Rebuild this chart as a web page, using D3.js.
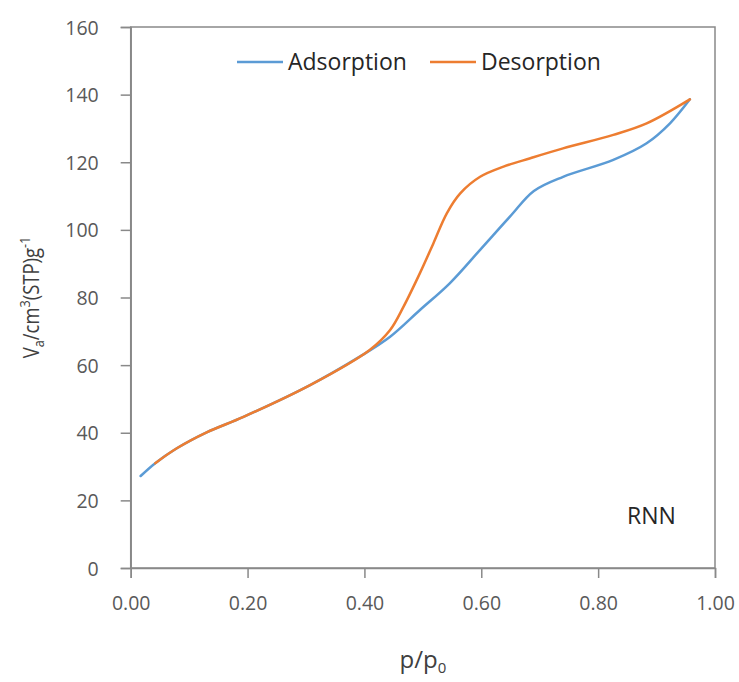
<!DOCTYPE html>
<html>
<head>
<meta charset="utf-8">
<script src="https://cdn.jsdelivr.net/npm/d3@7"></script>
<style>
  body { margin: 0; background: #fff; }
  text { font-family: "Open Sans", sans-serif; }
</style>
</head>
<body>
<script>
const width = 739;
const height = 682;

// Adsorption branch (p/p0, volume)
const adsP = [0.017, 0.042, 0.079, 0.130, 0.193, 0.307, 0.392, 0.444, 0.495, 0.546, 0.598, 0.649, 0.690, 0.740, 0.826, 0.883, 0.923, 0.957];
const adsV = [27.2, 31.0, 35.4, 40.1, 44.7, 54.1, 62.5, 68.4, 76.3, 84.2, 94.1, 103.9, 111.5, 115.7, 120.7, 125.6, 131.5, 138.6];

// Desorption branch
const desP = [0.042, 0.079, 0.130, 0.193, 0.307, 0.409, 0.444, 0.467, 0.495, 0.518, 0.541, 0.564, 0.598, 0.638, 0.684, 0.740, 0.826, 0.883, 0.957];
const desV = [31.0, 35.4, 40.1, 44.7, 54.1, 64.5, 70.4, 77.3, 87.2, 96.0, 104.9, 110.8, 115.7, 118.7, 121.2, 124.1, 128.1, 131.5, 138.6];

const xTicks = [0, 0.2, 0.4, 0.6, 0.8, 1.0];
const yTicks = [0, 20, 40, 60, 80, 100, 120, 140, 160];

const AXIS = "#898989";
const BLUE = "#5B9BD5";
const ORANGE = "#ED7D31";

const margin = {left: 130.7, right: 739 - 715, top: 27, bottom: 682 - 568};

const svg = d3.select("body").append("svg")
    .attr("width", width)
    .attr("height", height);

const x = d3.scaleLinear().domain([0, 1]).range([margin.left, width - margin.right]);
const y = d3.scaleLinear().domain([0, 160]).range([height - margin.bottom, margin.top]);

// frame
svg.append("rect")
    .attr("x", x(0)).attr("y", y(160))
    .attr("width", x(1) - x(0)).attr("height", y(0) - y(160))
    .attr("fill", "none").attr("stroke", AXIS).attr("stroke-width", 1.5);

// x axis
const xAxis = svg.append("g")
    .attr("transform", `translate(0,${y(0)})`)
    .call(d3.axisBottom(x).tickValues(xTicks).tickFormat(d3.format(".2f")).tickSize(10).tickPadding(18));

// y axis
const yAxis = svg.append("g")
    .attr("transform", `translate(${x(0)},0)`)
    .call(d3.axisLeft(y).tickValues(yTicks).tickSize(10).tickPadding(22));

[xAxis, yAxis].forEach(g => {
    g.select(".domain").attr("stroke", AXIS).attr("stroke-width", 1.5);
    g.selectAll(".tick line").attr("stroke", AXIS).attr("stroke-width", 1.5);
    g.selectAll(".tick text")
        .attr("fill", "#595959")
        .style("font-size", "19.5px")
        .style("font-family", "'Open Sans', sans-serif");
});
yAxis.selectAll(".tick text").attr("dy", "0.36em");

const line = d3.line()
    .x(d => x(d[0]))
    .y(d => y(d[1]))
    .curve(d3.curveCatmullRom.alpha(0.5));

const adsData = adsP.map((p, i) => [p, adsV[i]]);
const desData = desP.map((p, i) => [p, desV[i]]);

svg.append("path").datum(adsData)
    .attr("d", line)
    .attr("fill", "none").attr("stroke", BLUE)
    .attr("stroke-width", 2.5).attr("stroke-linecap", "round");

svg.append("path").datum(desData)
    .attr("d", line)
    .attr("fill", "none").attr("stroke", ORANGE)
    .attr("stroke-width", 2.5).attr("stroke-linecap", "round");

// legend
const legend = [
    {name: "Adsorption", color: BLUE, x0: 237},
    {name: "Desorption", color: ORANGE, x0: 430}
];
legend.forEach(l => {
    svg.append("line")
        .attr("x1", l.x0).attr("x2", l.x0 + 46)
        .attr("y1", 62).attr("y2", 62)
        .attr("stroke", l.color).attr("stroke-width", 2.5);
    svg.append("text")
        .attr("x", l.x0 + 51).attr("y", 62)
        .attr("dy", "0.35em")
        .attr("fill", "#262626")
        .style("font-size", "23px")
        .text(l.name);
});

// sample label
svg.append("text")
    .attr("x", 627).attr("y", 524)
    .attr("fill", "#262626")
    .style("font-size", "23px")
    .text("RNN");

// x title
const xt = svg.append("text")
    .attr("x", (x(0) + x(1)) / 2).attr("y", 668)
    .attr("text-anchor", "middle")
    .attr("fill", "#404040")
    .style("font-size", "24px");
xt.append("tspan").text("p/p");
xt.append("tspan").attr("dy", 5).style("font-size", "15px").text("0");

// y title (slightly condensed to match the narrow original face)
const yt = svg.append("text")
    .attr("transform", `translate(39,${(y(0) + y(160)) / 2}) rotate(-90) scale(0.84,1)`)
    .attr("text-anchor", "middle")
    .attr("fill", "#404040")
    .style("font-size", "22px");
yt.append("tspan").text("V");
yt.append("tspan").attr("dy", 5).style("font-size", "15px").text("a");
yt.append("tspan").attr("dy", -5).text("/cm");
yt.append("tspan").attr("dy", -9).style("font-size", "15px").text("3");
yt.append("tspan").attr("dy", 9).text("(STP)g");
yt.append("tspan").attr("dy", -9).style("font-size", "15px").text("-1");
</script>
</body>
</html>
